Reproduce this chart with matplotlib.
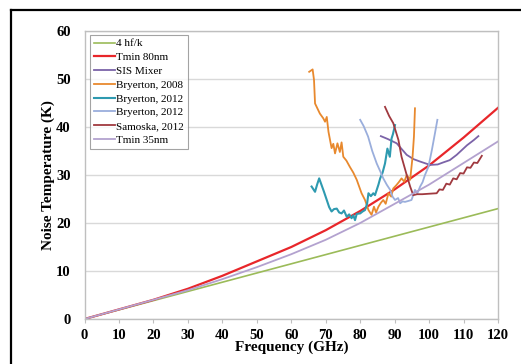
import matplotlib
matplotlib.use("Agg")
import matplotlib.pyplot as plt
from matplotlib.lines import Line2D

# ---- data ----
hfk_x = [0, 120]
hfk_y = [0, 23]

tmin80_x = [0, 10, 20, 30, 40, 50, 60, 70, 80, 90, 100, 110, 120]
tmin80_y = [0, 2, 4, 6.3, 9, 12, 15, 18.5, 22.5, 27, 32, 37.8, 44]

tmin35_x = [0, 10, 20, 30, 40, 50, 60, 70, 80, 90, 100, 110, 120]
tmin35_y = [0, 2, 4, 6, 8.3, 10.8, 13.5, 16.5, 20, 24, 28, 32.5, 37]

sis_x = [86.0, 88, 90.6, 93.5, 95.5, 97.4, 100.3, 102.5, 104, 106, 108, 111, 113, 114.3]
sis_y = [38.1, 37.5, 36.6, 34.2, 33.3, 32.8, 32.1, 32.2, 32.6, 33.1, 34.2, 36.2, 37.3, 38.1]

bry08_x = [65.2, 66.2, 66.6, 66.9, 68.3, 69.3, 69.8, 70.3, 70.8, 71.7, 72.2, 72.7, 73.4,
           74.1, 74.6, 75.1, 76.0, 77.0, 78.0, 79.0, 80.4, 81.4, 82.4, 83.3, 84.0, 84.6,
           85.3, 86.0, 86.7, 87.4, 88.2, 89.0, 89.6, 90.4, 91.2, 92.0, 92.8, 93.5, 94.5,
           95.2, 95.6, 95.9]
bry08_y = [51.5, 52.0, 49.8, 44.9, 42.8, 41.8, 41.1, 42.1, 39.0, 35.6, 36.5, 34.5, 36.6,
           34.8, 36.8, 33.8, 33.0, 31.7, 30.5, 29.0, 26.2, 24.8, 22.7, 21.7, 23.4, 22.2,
           23.4, 24.2, 24.8, 24.0, 26.2, 25.5, 27.2, 27.8, 28.5, 29.3, 28.6, 30.0, 29.0,
           33.8, 38.0, 43.9]

bry12a_x = [65.9, 66.9, 67.5, 68.1, 68.8, 69.5, 70.3, 71.0, 71.7, 72.4, 73.2, 73.9, 74.6,
            75.3, 76.1, 76.8, 77.5, 78.0, 78.5, 79.0, 80.0, 80.7, 81.4, 82.0, 82.4, 83.1,
            83.8, 84.3, 84.8, 85.3, 85.8, 86.5, 87.2, 87.9, 88.6, 89.1, 89.5, 90.1]
bry12a_y = [27.6, 26.5, 28.0, 29.3, 27.9, 26.5, 24.8, 23.3, 22.4, 22.9, 23.0, 22.2, 22.0,
            22.6, 21.3, 21.8, 21.0, 21.6, 20.6, 21.9, 22.0, 22.4, 22.7, 24.0, 26.2, 25.6,
            26.2, 25.8, 26.9, 28.0, 29.3, 30.5, 32.4, 35.5, 33.8, 37.6, 38.5, 40.4]

bry12b_x = [80.0, 81.0, 82.3, 83.5, 84.8, 85.8, 86.7, 87.7, 88.7, 89.4, 90.1, 91.0, 91.6,
            92.3, 93.0, 94.0, 94.9, 95.9, 96.6, 97.4, 98.1, 98.8, 99.8, 100.8, 101.7, 102.4]
bry12b_y = [41.5, 40.2, 38.0, 35.0, 32.4, 30.8, 29.3, 28.0, 26.9, 25.5, 24.8, 25.2, 24.1,
            24.5, 24.4, 24.6, 24.8, 26.9, 26.2, 27.6, 28.5, 30.0, 31.7, 35.2, 38.7, 41.5]

sam_x = [87.2, 88.4, 89.6, 91.1, 92.0, 93.5, 94.5, 95.4, 96.5, 98, 100, 102.2, 103.0,
         104.0, 105.0, 106.0, 107.0, 108.0, 109.0, 110.0, 111.0, 112.0, 113.0, 114.0, 115.3]
sam_y = [44.2, 42.3, 40.8, 37.3, 33.8, 30.0, 27.6, 25.8, 26.0, 26.0, 26.1, 26.2, 27.0,
         26.9, 28.2, 28.0, 29.3, 29.1, 30.4, 30.3, 31.6, 31.5, 32.6, 32.5, 34.0]

series = [
    ("4 hf/k", hfk_x, hfk_y, "#9BBB59", 1.2),
    ("Tmin 80nm", tmin80_x, tmin80_y, "#E8262A", 1.6),
    ("SIS Mixer", sis_x, sis_y, "#7B63A8", 1.3),
    ("Bryerton, 2008", bry08_x, bry08_y, "#E8892E", 1.3),
    ("Bryerton, 2012", bry12a_x, bry12a_y, "#2E9AB0", 1.5),
    ("Bryerton, 2012", bry12b_x, bry12b_y, "#9AAEDC", 1.3),
    ("Samoska, 2012", sam_x, sam_y, "#A0393F", 1.3),
    ("Tmin 35nm", tmin35_x, tmin35_y, "#B3A2CF", 1.3),
]

xticks = list(range(0, 121, 10))
yticks = list(range(0, 61, 10))

plt.rcParams['font.family'] = ['Liberation Serif', 'DejaVu Serif']

fig = plt.figure(figsize=(5.21, 3.64), dpi=100)
ax = fig.add_axes([0.1622, 0.1236, 0.7937, 0.7912])

for label, xs, ys, c, lw in series:
    ax.plot(xs, ys, color=c, lw=lw, label=label)

ax.set_xlim(0, 120)
ax.set_ylim(0, 60)
ax.set_xticks(xticks)
ax.set_yticks(yticks)
ax.set_xticklabels([str(t) for t in xticks], fontsize=10.5, fontweight='bold')
ax.set_yticklabels([str(t) for t in yticks], fontsize=10.5, fontweight='bold')
ax.tick_params(axis='x', length=3, color='#BFBFBF', pad=4)
ax.tick_params(axis='y', length=0, pad=10)
ax.grid(axis='y', color='#D9D9D9', lw=1)
ax.set_axisbelow(True)
for s in ax.spines.values():
    s.set_color('#BFBFBF')
    s.set_linewidth(1)

ax.set_xlabel("Frequency (GHz)", fontsize=11, fontweight='bold', labelpad=-1)
ax.set_ylabel("Noise Temperature (K)", fontsize=11, fontweight='bold', labelpad=1)

leg = ax.legend(loc='upper left', bbox_to_anchor=(0.013, 0.987), fontsize=8,
                frameon=True, fancybox=False, handlelength=1.9, handletextpad=0.1,
                borderpad=0.35, labelspacing=0.36, borderaxespad=0)
leg.get_frame().set_edgecolor('#8C8C8C')
leg.get_frame().set_linewidth(0.8)

# outer black frame
fig.add_artist(Line2D([0.0211, 0.0211], [0.9725, 0.0], transform=fig.transFigure,
                      color='black', lw=1.6))
fig.add_artist(Line2D([0.0211, 1.0], [0.9725, 0.9725], transform=fig.transFigure,
                      color='black', lw=1.6))

fig.savefig("out.png", dpi=100)
